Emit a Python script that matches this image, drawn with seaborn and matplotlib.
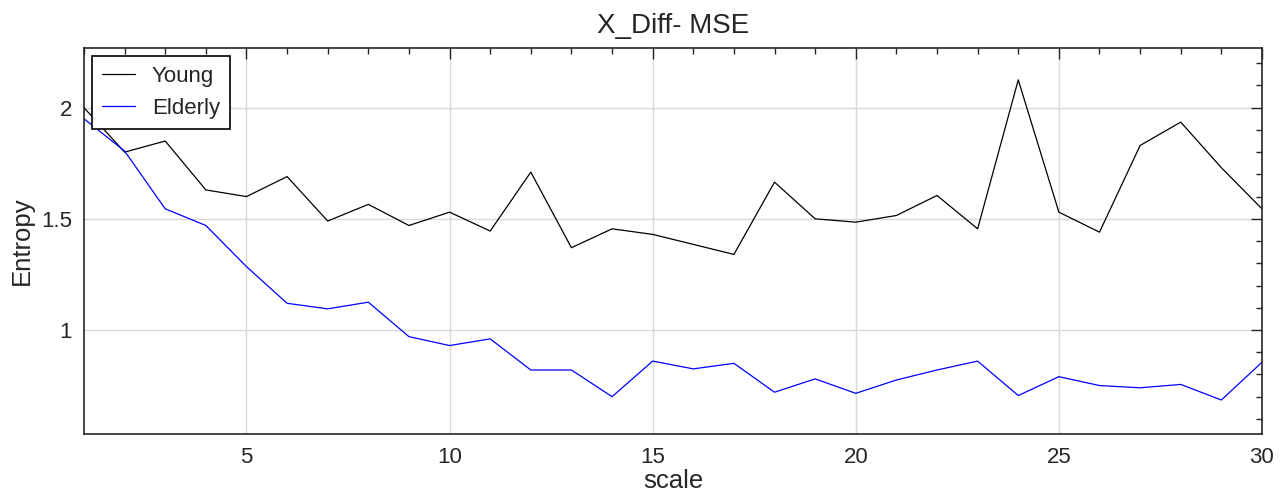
import numpy as np
import pandas as pd
import matplotlib
matplotlib.use("Agg")
import matplotlib.pyplot as plt
from matplotlib.ticker import MultipleLocator, FixedLocator
import seaborn as sns

# Multiscale entropy of the X-difference signal, per scale factor
scale = list(range(1, 31))
young = [2.00, 1.80, 1.85, 1.63, 1.60, 1.69, 1.49, 1.565, 1.47, 1.53,
         1.445, 1.71, 1.37, 1.455, 1.43, 1.385, 1.34, 1.665, 1.50, 1.485,
         1.515, 1.605, 1.455, 2.125, 1.53, 1.44, 1.83, 1.935, 1.73, 1.545]
elderly = [1.95, 1.805, 1.545, 1.47, 1.285, 1.12, 1.095, 1.125, 0.97, 0.93,
           0.96, 0.82, 0.82, 0.70, 0.86, 0.825, 0.85, 0.72, 0.78, 0.715,
           0.775, 0.82, 0.86, 0.705, 0.79, 0.75, 0.74, 0.755, 0.685, 0.855]
groups = ["Young", "Elderly"]
colors = ["#000000", "#0000ff"]

df = pd.DataFrame({
    "scale": scale * 2,
    "Entropy": young + elderly,
    "group": ["Young"] * len(scale) + ["Elderly"] * len(scale),
})

sns.set_theme(style="white")
plt.rcParams["font.family"] = ["Liberation Sans", "DejaVu Sans"]
text_color = "#262626"

fig = plt.figure(figsize=(12.88, 4.95), dpi=100)
ax = fig.add_axes([0.0652, 0.1232, 0.9146, 0.7792])

sns.lineplot(data=df, x="scale", y="Entropy", hue="group", hue_order=groups,
             palette=dict(zip(groups, colors)), linewidth=0.9, ax=ax)

ax.set_xlim(1, 30)
ax.set_ylim(0.532, 2.267)
ax.xaxis.set_major_locator(FixedLocator([5, 10, 15, 20, 25, 30]))
ax.xaxis.set_minor_locator(MultipleLocator(1))
ax.yaxis.set_major_locator(FixedLocator([1.0, 1.5, 2.0]))
ax.yaxis.set_minor_locator(MultipleLocator(0.1))
ax.set_yticklabels(["1", "1.5", "2"])

ax.grid(True, which="major", color="#d9d9d9", linewidth=1.0)
ax.set_axisbelow(True)
ax.tick_params(which="both", direction="in", top=True, right=True,
               colors="#262626", labelcolor=text_color, labelsize=16)
ax.tick_params(which="major", length=8, width=1.0)
ax.tick_params(which="minor", length=4, width=1.0)
ax.tick_params(axis="x", which="major", pad=9)
ax.tick_params(axis="y", which="major", pad=8.5)
for sp in ax.spines.values():
    sp.set_color("#262626")
    sp.set_linewidth(1.2)

ax.set_title("X_Diff- MSE", fontsize=20, color=text_color, pad=11)
ax.set_xlabel("scale", fontsize=18.5, color=text_color, labelpad=1)
ax.set_ylabel("Entropy", fontsize=18.5, color=text_color, labelpad=5)

leg = ax.legend(loc="upper left", fontsize=16, frameon=True, fancybox=False,
                edgecolor="#000000", framealpha=1, handlelength=1.5,
                borderpad=0.45, labelspacing=0.5, handletextpad=0.75,
                borderaxespad=0.35)
leg.get_frame().set_linewidth(1.2)
for t in leg.get_texts():
    t.set_color(text_color)

fig.savefig("out.png", dpi=100)
